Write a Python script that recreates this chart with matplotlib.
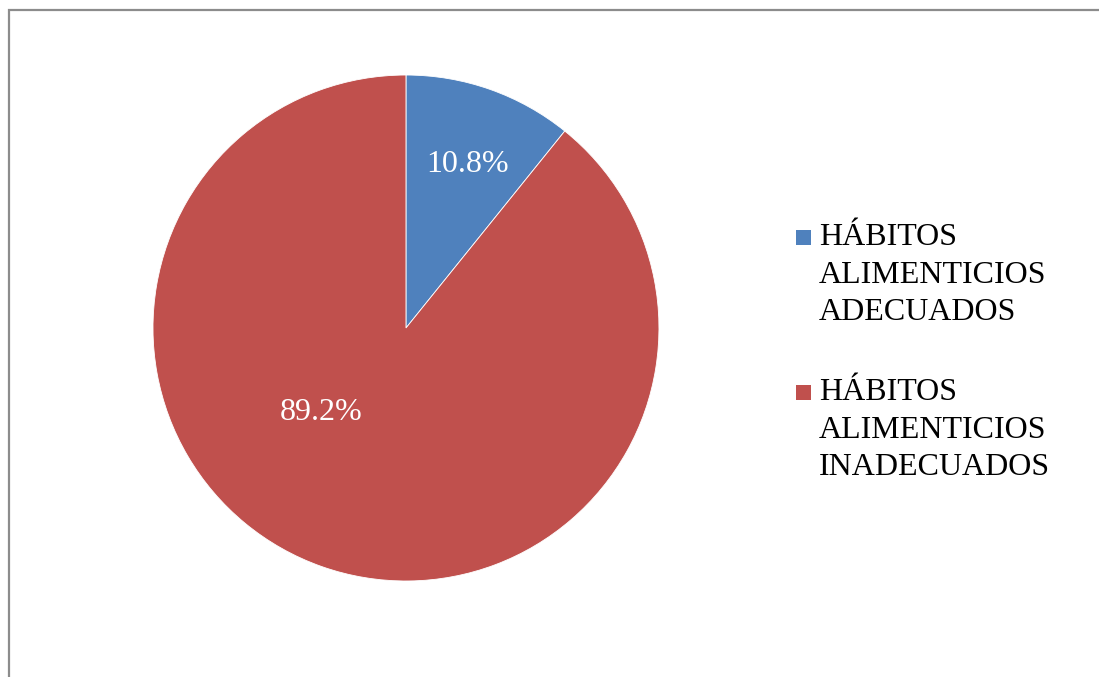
import matplotlib.pyplot as plt
from matplotlib.patches import Rectangle

# datos de la encuesta
categorias = ['HÁBITOS\nALIMENTICIOS\nADECUADOS', 'HÁBITOS\nALIMENTICIOS\nINADECUADOS']
porcentajes = [10.8, 89.2]
colores = ['#4F81BD', '#C0504D']

plt.rcParams['font.family'] = ['Liberation Serif', 'DejaVu Serif']

fig = plt.figure(figsize=(10.99, 6.77), dpi=100)

# marco gris del grafico (solo se ve arriba y a la izquierda)
fig.patches.append(Rectangle((8.5/1099, -0.2), 1.2, 1.2 - 10/677,
                             transform=fig.transFigure, fill=False,
                             edgecolor='#8c8c8c', linewidth=1.6))

ax = fig.add_axes([0.1392, 0.1418, 0.4604, 0.7474])
wedges, textos, autotextos = ax.pie(porcentajes, colors=colores, startangle=90,
                                    counterclock=False, radius=1,
                                    autopct=lambda p: f'{p:.1f}%', pctdistance=0.69,
                                    wedgeprops=dict(linewidth=0.6, edgecolor='white'),
                                    textprops=dict(color='white', fontsize=23))
# ajuste fino de las etiquetas de porcentaje
autotextos[0].set_position((0.245, 0.645))
autotextos[1].set_position((-0.336, -0.333))
ax.set_xlim(-1, 1)
ax.set_ylim(-1, 1)
ax.set_aspect('equal')

# leyenda a la derecha (cuadro alineado con la primera linea)
y0 = 1 - 247/677
paso = 155/677
linea = 36.5/677
for i, (cat, col) in enumerate(zip(categorias, colores)):
    y = y0 - i*paso
    n = cat.count('\n')
    fig.patches.append(Rectangle((796/1099, y + 2/677), 15/1099, 15/677,
                                 transform=fig.transFigure, facecolor=col,
                                 edgecolor='none'))
    fig.text(819/1099, y - n*linea, cat, fontsize=23, va='baseline', ha='left',
             linespacing=1.38, color='black')

fig.savefig('out.png', dpi=100)
